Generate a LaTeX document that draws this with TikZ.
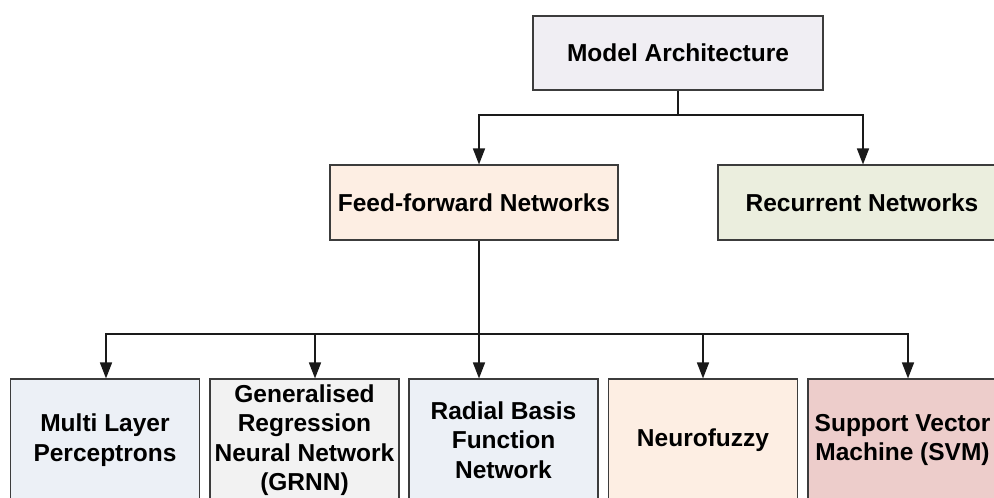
\documentclass[tikz,border=0pt]{standalone}
\usepackage{fontspec}
\setmainfont{Liberation Sans}
\usetikzlibrary{arrows.meta}
\definecolor{cMA}{HTML}{F0EEF3}
\definecolor{cFF}{HTML}{FDEEE3}
\definecolor{cRN}{HTML}{EBEEDE}
\definecolor{cBL}{HTML}{ECF0F6}
\definecolor{cGR}{HTML}{F2F2F2}
\definecolor{cSV}{HTML}{EDCDCB}
\definecolor{cLine}{HTML}{1A1A1A}
\tikzset{
  boxnode/.style={draw=cLine!85, line width=1.1pt, inner sep=0pt, align=center,
    font=\fontsize{24.5}{29.4}\selectfont\bfseries},
  topbox/.style={boxnode, minimum width=290pt, minimum height=74pt},
  midbox/.style={boxnode, minimum width=288pt, minimum height=75pt},
  lowbox/.style={boxnode, minimum width=189pt, minimum height=122pt},
  conn/.style={draw=cLine, line width=1.5pt},
  arr/.style={conn, -{Triangle[length=16pt,width=12pt]}}
}
\begin{document}
\begin{tikzpicture}[x=1pt,y=-1pt]
\useasboundingbox (0,0) rectangle (994,498);
\node[topbox, fill=cMA] (ma) at (678,53) {Model Architecture};
\node[midbox, fill=cFF] (ff) at (474,202.5) {Feed-forward Networks};
\node[midbox, fill=cRN] (rn) at (862,202.5) {Recurrent Networks};
\node[lowbox, fill=cBL] (mlp) at (105,440) {Multi Layer\\Perceptrons};
\node[lowbox, fill=cGR] (grnn) at (304.5,440) {Generalised\\Regression\\Neural Network\\(GRNN)};
\node[lowbox, fill=cBL] (rbf) at (503.5,440) {Radial Basis\\Function\\Network};
\node[lowbox, fill=cFF] (nf) at (703,440) {Neurofuzzy};
\node[lowbox, fill=cSV] (svm) at (902.5,440) {Support Vector\\Machine (SVM)};
% top-level connectors
\coordinate (j1) at (678,115);
\coordinate (j1l) at (479,115);
\coordinate (j1r) at (863,115);
\draw[conn] (ma.south) -- (j1);
\draw[arr] (j1) -- (j1l) -- (j1l |- ff.north);
\draw[arr] (j1) -- (j1r) -- (j1r |- rn.north);
% lower connectors
\coordinate (j2) at (479,334);
\coordinate (b1) at (106,334);
\coordinate (b2) at (315,334);
\coordinate (b4) at (703,334);
\coordinate (b5) at (908,334);
\draw[conn] (j2 |- ff.south) -- (j2);
\draw[arr] (j2) -- (j2 |- rbf.north);
\draw[arr] (j2) -- (b1) -- (b1 |- mlp.north);
\draw[arr] (b1) -- (b2) -- (b2 |- grnn.north);
\draw[arr] (j2) -- (b4) -- (b4 |- nf.north);
\draw[arr] (b4) -- (b5) -- (b5 |- svm.north);
\end{tikzpicture}
\end{document}
